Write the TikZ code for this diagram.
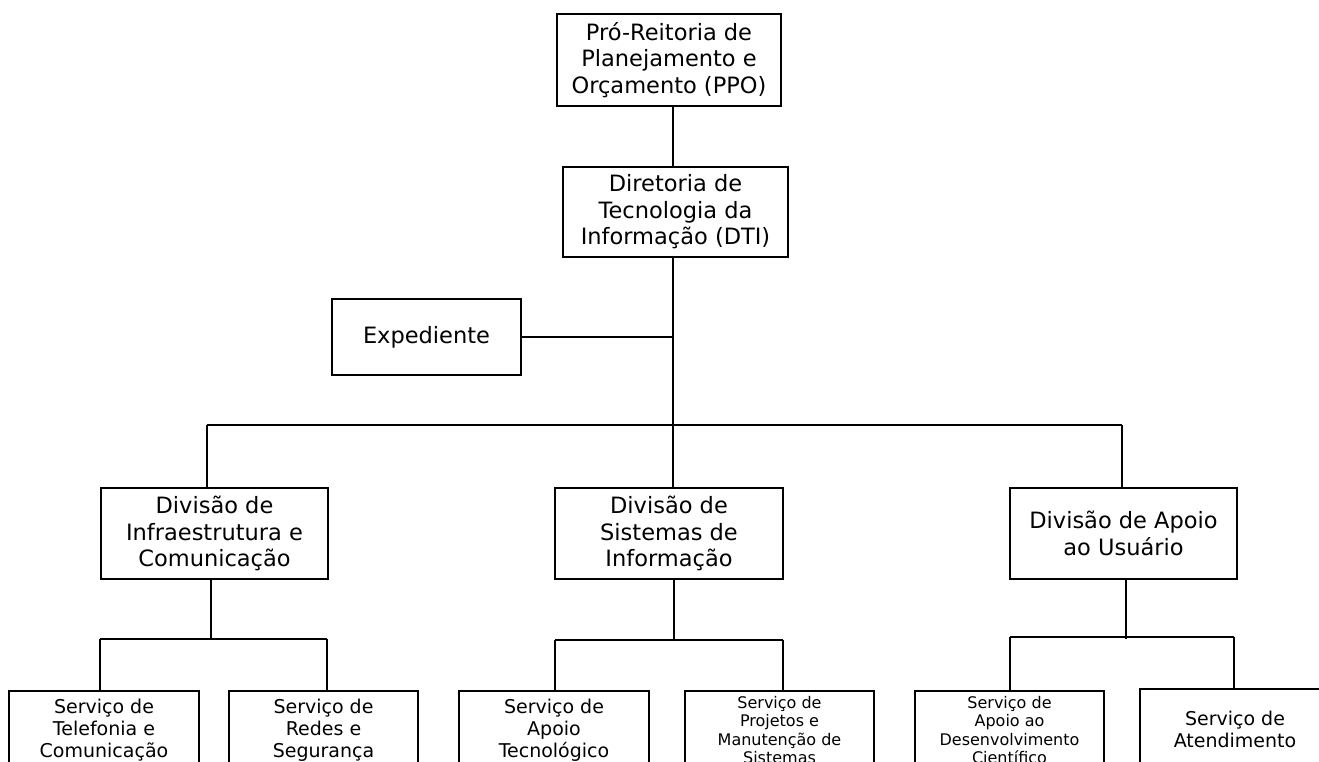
\documentclass[tikz,border=0pt]{standalone}
\usepackage{fontspec}
\setmainfont{DejaVu Sans}
\begin{document}
\begin{tikzpicture}[x=1pt,y=-1pt,
  box/.style={draw,line width=1.6pt,rectangle,align=center,inner sep=0pt},
  big/.style={box,font=\fontsize{22.5}{26.5}\selectfont},
  mid/.style={box,font=\fontsize{19}{22}\selectfont},
  small/.style={box,font=\fontsize{16}{18.5}\selectfont},
  conn/.style={line width=1.6pt}]
\useasboundingbox (0,0) rectangle (1319,762);
\clip (0,0) rectangle (1319,762);
\fill[white] (0,0) rectangle (1319,762);
% nodes
\node[big,minimum width=224pt,minimum height=92pt] (ppo) at (669,60) {Pró-Reitoria de\\Planejamento e\\Orçamento (PPO)};
\node[big,minimum width=225pt,minimum height=90pt] (dti) at (675.5,212) {Diretoria de\\Tecnologia da\\Informação (DTI)};
\node[big,minimum width=189pt,minimum height=76pt] (exp) at (426.5,337) {Expediente};
\node[big,minimum width=227pt,minimum height=91pt] (infra) at (214.5,533.5) {Divisão de\\Infraestrutura e\\Comunicação};
\node[big,minimum width=228pt,minimum height=91pt] (sis) at (669,533.5) {Divisão de\\Sistemas de\\Informação};
\node[big,minimum width=227pt,minimum height=91pt] (apoio) at (1123.5,533.5) {Divisão de Apoio\\ao Usuário};
\node[mid,minimum width=190pt,minimum height=78pt] (tel) at (104,730) {Serviço de\\Telefonia e\\Comunicação};
\node[mid,minimum width=189pt,minimum height=78pt] (red) at (323.5,730) {Serviço de\\Redes e\\Segurança};
\node[mid,minimum width=190pt,minimum height=78pt] (atec) at (554,730) {Serviço de\\Apoio\\Tecnológico};
\node[small,minimum width=189pt,minimum height=78pt] (proj) at (779.5,730) {Serviço de\\Projetos e\\Manutenção de\\Sistemas};
\node[small,minimum width=189pt,minimum height=78pt] (desenv) at (1009.5,730) {Serviço de\\Apoio ao\\Desenvolvimento\\Científico};
\node[mid,minimum width=190pt,minimum height=80pt] (atend) at (1235,729) {Serviço de\\Atendimento};
% coordinates
\coordinate (t) at (673,0);
\coordinate (busL) at (207,425);
\coordinate (busR) at (1122,425);
\coordinate (ia) at (211,639);
\coordinate (il) at (100,639);
\coordinate (ir) at (327,639);
\coordinate (sa) at (674,640);
\coordinate (sl) at (555,640);
\coordinate (sr) at (783,640);
\coordinate (aa) at (1126,639);
\coordinate (al) at (1010,637);
\coordinate (ar) at (1234,637);
% connectors
\draw[conn] (ppo.south -| t) -- (dti.north -| t);
\draw[conn] (dti.south -| t) -- (sis.north -| t);
\draw[conn] (exp.east) -- (exp.east -| t);
\draw[conn] (busL) -- (busR);
\draw[conn] (busL) -- (busL |- infra.north);
\draw[conn] (busR) -- (busR |- apoio.north);
\draw[conn] (infra.south -| ia) -- (ia);
\draw[conn] (il) -- (ir);
\draw[conn] (il) -- (il |- tel.north);
\draw[conn] (ir) -- (ir |- red.north);
\draw[conn] (sis.south -| sa) -- (sa);
\draw[conn] (sl) -- (sr);
\draw[conn] (sl) -- (sl |- atec.north);
\draw[conn] (sr) -- (sr |- proj.north);
\draw[conn] (apoio.south -| aa) -- (aa);
\draw[conn] (al) -- (ar);
\draw[conn] (al) -- (al |- desenv.north);
\draw[conn] (ar) -- (ar |- atend.north);
\end{tikzpicture}
\end{document}
